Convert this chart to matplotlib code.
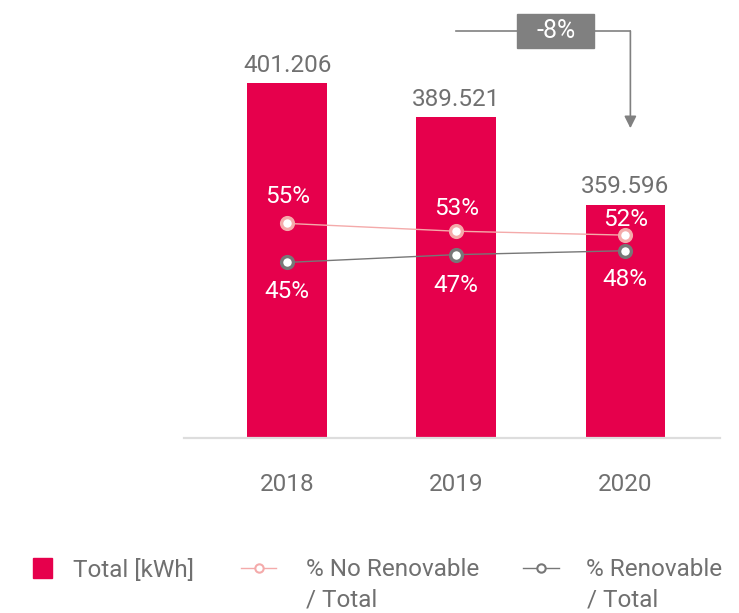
import numpy as np
import matplotlib
matplotlib.use('Agg')
from matplotlib import pyplot as plt
from matplotlib.patches import Rectangle, Patch
from matplotlib.lines import Line2D

# data
years = ['2018', '2019', '2020']
total_kwh = [401.206, 389.521, 359.596]
no_renovable = [55, 53, 52]
renovable = [45, 47, 48]
change_label = '-8%'

bar_color = '#E6004C'
pink = '#F4AAAA'
grey_line = '#777777'
text_grey = '#707070'
box_grey = '#808080'

# label offsets (points) above / below the line markers
up_off = [19.5, 16, 11.5]
down_off = [-21, -22, -20.5]

plt.rcParams['font.family'] = ['Roboto', 'DejaVu Sans']
fs = 17.5

fig = plt.figure(figsize=(7.39, 6.13), dpi=100)
ax = fig.add_axes([184 / 739, 175 / 613, 536 / 739, 428 / 613])

x = np.arange(len(years))
ax.bar(x, total_kwh, width=0.47, color=bar_color, zorder=2)
ax.set_xlim(-0.61, 2.56)
ax.set_ylim(279.8, 426.1)

for xi, v in zip(x, total_kwh):
    label = ('%.3f' % v)
    ax.annotate(label, (xi, v), xytext=(0, 8), textcoords='offset points',
                ha='center', va='baseline', fontsize=fs, color=text_grey)

ax.set_xticks(x)
ax.set_xticklabels(years, fontsize=fs, color=text_grey)
ax.tick_params(axis='x', length=0, pad=25)
ax.set_yticks([])
for s in ['top', 'right', 'left']:
    ax.spines[s].set_visible(False)
ax.spines['bottom'].set_color('#DDDDDD')
ax.spines['bottom'].set_linewidth(1.6)

# percentages on a second scale
ax2 = ax.twinx()
ax2.set_ylim(0, 109.7)
ax2.set_yticks([])
for s in ax2.spines.values():
    s.set_visible(False)
ax2.plot(x, no_renovable, color=pink, lw=1, marker='o', markersize=8.5,
         markerfacecolor='white', markeredgecolor=pink, markeredgewidth=2.4, zorder=3)
ax2.plot(x, renovable, color=grey_line, lw=1, marker='o', markersize=8.5,
         markerfacecolor='white', markeredgecolor=grey_line, markeredgewidth=2.4, zorder=3)
for i in range(len(x)):
    ax2.annotate('%d%%' % no_renovable[i], (x[i], no_renovable[i]), xytext=(0, up_off[i]),
                 textcoords='offset points', ha='center', va='center', fontsize=fs, color='white')
    ax2.annotate('%d%%' % renovable[i], (x[i], renovable[i]), xytext=(0, down_off[i]),
                 textcoords='offset points', ha='center', va='center', fontsize=fs, color='white')

# -8% change callout from 2019 to 2020
y_top = max(total_kwh) + 17.7
y_tip = total_kwh[2] + 26.1
x_end = x[2] + 0.03
ax.plot([x[1], x_end], [y_top, y_top], color=box_grey, lw=1.2, zorder=4, clip_on=False)
ax.annotate('', xy=(x_end, y_tip), xytext=(x_end, y_top),
            arrowprops=dict(arrowstyle='-|>', color=box_grey, lw=1.2,
                            mutation_scale=18, shrinkA=0, shrinkB=0), zorder=4)
bx = (x[1] + x[2]) / 2 + 0.089
ax.add_patch(Rectangle((bx - 0.228, y_top - 5.8), 0.456, 11.6, color=box_grey,
                       zorder=5, clip_on=False))
ax.text(bx, y_top, change_label, ha='center', va='center', fontsize=fs + 0.5,
        color='white', zorder=6)

# legend, one entry at a time
leg_kw = dict(loc='center left', frameon=False, fontsize=fs, borderpad=0,
              borderaxespad=0, labelcolor=text_grey)
fig.legend([Patch(color=bar_color)], ['Total [kWh]'],
           bbox_to_anchor=(33 / 739, 1 - 570 / 613),
           handlelength=0.8, handleheight=0.85, handletextpad=0.85, **leg_kw)
fig.legend([Line2D([], [], color=pink, lw=1, marker='o', markersize=6,
                   markerfacecolor='white', markeredgecolor=pink, markeredgewidth=1.5)],
           ['% No Renovable'], bbox_to_anchor=(241 / 739, 1 - 570 / 613),
           handlelength=1.45, handletextpad=1.23, **leg_kw)
fig.legend([Line2D([], [], color=grey_line, lw=1, marker='o', markersize=6,
                   markerfacecolor='white', markeredgecolor=grey_line, markeredgewidth=1.5)],
           ['% Renovable'], bbox_to_anchor=(523 / 739, 1 - 570 / 613),
           handlelength=1.5, handletextpad=1.1, **leg_kw)
fig.text(306 / 739, 1 - 600 / 613, '/ Total', va='center', fontsize=fs, color=text_grey)
fig.text(587 / 739, 1 - 600 / 613, '/ Total', va='center', fontsize=fs, color=text_grey)

plt.savefig('out.png', dpi=100)
